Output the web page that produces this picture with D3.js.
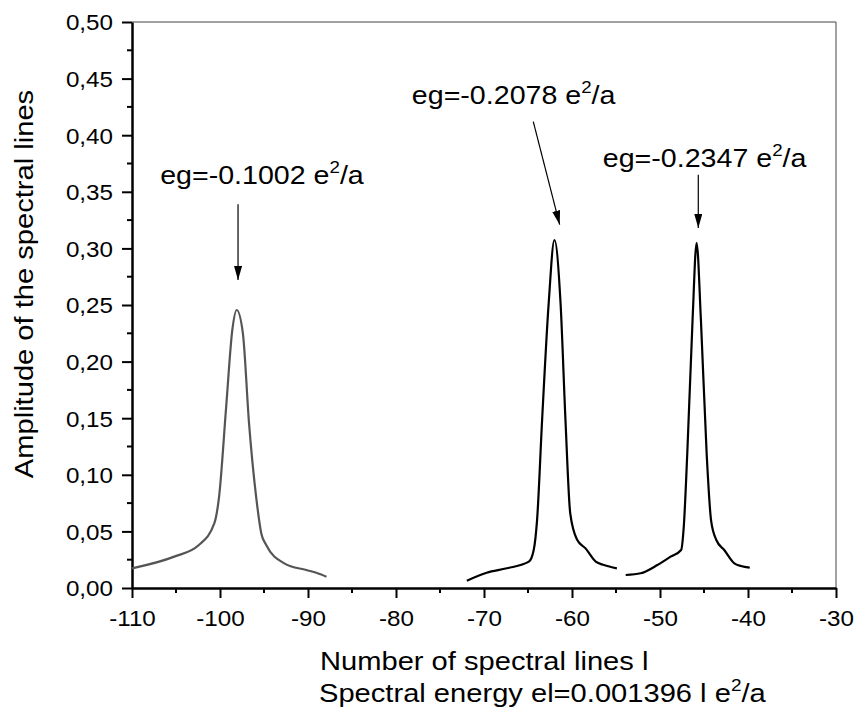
<!DOCTYPE html>
<html>
<head>
<meta charset="utf-8">
<script src="https://cdn.jsdelivr.net/npm/d3@7"></script>
<style>
  body { margin: 0; background: #fff; }
  text { font-family: "Liberation Sans", Arial, sans-serif; fill: #000; }
</style>
</head>
<body>
<svg id="chart"></svg>
<script>
const width = 856;
const height = 711;
const margin = { top: 22, right: 20, bottom: 123, left: 132 };

// peak near -98 (grey line)
const peak1X = [-110, -105.2, -102.4, -100.65, -100.1, -99.3, -98.6, -98.1, -97.4, -96.7, -95.9, -95.3, -94.75, -92.7, -90.2, -89.05, -87.9];
const peak1Y = [0.0174, 0.0277, 0.038, 0.057, 0.081, 0.160, 0.228, 0.2456, 0.225, 0.1455, 0.081, 0.048, 0.038, 0.0218, 0.0159, 0.0135, 0.010];

// peak near -62
const peak2X = [-71.95, -69.7, -67.4, -64.9, -64.35, -63.97, -63.4, -62.65, -62.0, -61.3, -60.74, -60.2, -59.4, -58.46, -57.3, -56.37, -54.9];
const peak2Y = [0.0065, 0.0135, 0.0174, 0.0233, 0.0336, 0.060, 0.148, 0.2515, 0.3074, 0.2515, 0.148, 0.066, 0.0424, 0.035, 0.0233, 0.0203, 0.0174];

// peak near -46
const peak3X = [-53.9, -52.2, -50.3, -48.8, -47.6, -47.3, -46.9, -46.3, -45.84, -45.35, -44.7, -44.2, -43.6, -42.7, -41.55, -40.8, -39.8];
const peak3Y = [0.0115, 0.013, 0.0203, 0.0277, 0.0336, 0.054, 0.119, 0.2367, 0.305, 0.2367, 0.119, 0.060, 0.0424, 0.0336, 0.0218, 0.0194, 0.018];

const xTicks = [-110, -100, -90, -80, -70, -60, -50, -40, -30];
const yTicks = [0, 0.05, 0.10, 0.15, 0.20, 0.25, 0.30, 0.35, 0.40, 0.45, 0.50];

// annotations: label text, label anchor (data units), arrow from/to (data units)
const annoValues = ["-0.1002", "-0.2078", "-0.2347"];
const annoLabelPos = [[-106.8, 0.357], [-78.2, 0.428], [-56.5, 0.372]];
const arrowFrom = [[-97.95, 0.339], [-64.4, 0.412], [-45.65, 0.365]];
const arrowTo = [[-97.95, 0.272], [-61.4, 0.321], [-45.65, 0.318]];

const svg = d3.select("#chart")
    .attr("width", width)
    .attr("height", height);

const xScale = d3.scaleLinear()
    .domain([-110, -30])
    .range([margin.left, width - margin.right]);

const yScale = d3.scaleLinear()
    .domain([0, 0.5])
    .range([height - margin.bottom, margin.top]);

// frame: thin top and right
svg.append("path")
    .attr("d", `M${xScale(-110)},${yScale(0.5)}H${xScale(-30)}V${yScale(0)}`)
    .attr("fill", "none")
    .attr("stroke", "#444")
    .attr("stroke-width", 1);

// minor ticks
const xMinor = d3.range(-105, -30, 10);
const yMinor = d3.range(0.025, 0.5, 0.05);

svg.append("g")
    .selectAll("line")
    .data(xMinor)
    .join("line")
    .attr("x1", d => xScale(d)).attr("x2", d => xScale(d))
    .attr("y1", yScale(0)).attr("y2", yScale(0) + 5)
    .attr("stroke", "#000").attr("stroke-width", 2);

svg.append("g")
    .selectAll("line")
    .data(yMinor)
    .join("line")
    .attr("y1", d => yScale(d)).attr("y2", d => yScale(d))
    .attr("x1", xScale(-110)).attr("x2", xScale(-110) - 5)
    .attr("stroke", "#000").attr("stroke-width", 2);

// x axis
const gx = svg.append("g")
    .attr("transform", `translate(0, ${yScale(0)})`)
    .call(d3.axisBottom(xScale).tickValues(xTicks).tickSize(10).tickPadding(8).tickSizeOuter(0)
        .tickFormat(d => String(d)));

// y axis
const gy = svg.append("g")
    .attr("transform", `translate(${xScale(-110)}, 0)`)
    .call(d3.axisLeft(yScale).tickValues(yTicks).tickSize(10).tickPadding(7.3).tickSizeOuter(0)
        .tickFormat(d => d3.format(".2f")(d).replace(".", ",")));

[gx, gy].forEach(g => {
    g.select(".domain").attr("stroke", "#000").attr("stroke-width", 2.5);
    g.selectAll(".tick line").attr("stroke", "#000").attr("stroke-width", 2);
    g.selectAll(".tick text")
        .attr("font-size", 22)
        .attr("font-family", "Liberation Sans, Arial, sans-serif")
        .attr("fill", "#000")
        .attr("transform", "scale(1.1, 1)");
});
gx.selectAll(".tick text").attr("dy", "0.9em");
gy.selectAll(".tick text").attr("dy", "0.36em");

// curves
const line = d3.line()
    .x(d => xScale(d[0]))
    .y(d => yScale(d[1]))
    .curve(d3.curveMonotoneX);

const series = [
    { xs: peak1X, ys: peak1Y, color: "#555" },
    { xs: peak2X, ys: peak2Y, color: "#000" },
    { xs: peak3X, ys: peak3Y, color: "#000" }
];

svg.append("g")
    .selectAll("path")
    .data(series)
    .join("path")
    .attr("d", s => line(s.xs.map((x, i) => [x, s.ys[i]])))
    .attr("fill", "none")
    .attr("stroke", s => s.color)
    .attr("stroke-width", 2.2)
    .attr("stroke-linejoin", "round");

// arrow marker
svg.append("defs").append("marker")
    .attr("id", "arrowHead")
    .attr("viewBox", "0 0 14 8")
    .attr("refX", 14).attr("refY", 4)
    .attr("markerWidth", 14).attr("markerHeight", 8)
    .attr("markerUnits", "userSpaceOnUse")
    .attr("orient", "auto")
    .append("path")
    .attr("d", "M0,0L14,4L0,8Z")
    .attr("fill", "#000");

svg.append("g")
    .selectAll("line")
    .data(arrowFrom)
    .join("line")
    .attr("x1", d => xScale(d[0])).attr("y1", d => yScale(d[1]))
    .attr("x2", (d, i) => xScale(arrowTo[i][0])).attr("y2", (d, i) => yScale(arrowTo[i][1]))
    .attr("stroke", "#000")
    .attr("stroke-width", 1.2)
    .attr("marker-end", "url(#arrowHead)");

// labels (slightly widened to match the original rendering)
const labels = svg.append("g")
    .selectAll("text")
    .data(annoValues)
    .join("text")
    .attr("transform", (d, i) => `translate(${xScale(annoLabelPos[i][0])}, ${yScale(annoLabelPos[i][1])}) scale(1.1, 1)`)
    .attr("font-size", 26);

labels.append("tspan").text(d => `eg=${d} e`);
labels.append("tspan").attr("font-size", 17).attr("dy", -11).text("2");
labels.append("tspan").attr("dy", 11).text("/a");

// axis titles
svg.append("text")
    .attr("transform", `translate(33, 284) rotate(-90) scale(1.12, 1)`)
    .attr("text-anchor", "middle")
    .attr("font-size", 26)
    .text("Amplitude of the spectral lines");

svg.append("text")
    .attr("transform", `translate(320, 670) scale(1.12, 1)`)
    .attr("font-size", 26)
    .text("Number of spectral lines l");

const t2 = svg.append("text")
    .attr("transform", `translate(319, 702) scale(1.12, 1)`)
    .attr("font-size", 26);
t2.append("tspan").text("Spectral energy el=0.001396 l e");
t2.append("tspan").attr("font-size", 17).attr("dy", -11).text("2");
t2.append("tspan").attr("dy", 11).text("/a");
</script>
</body>
</html>
